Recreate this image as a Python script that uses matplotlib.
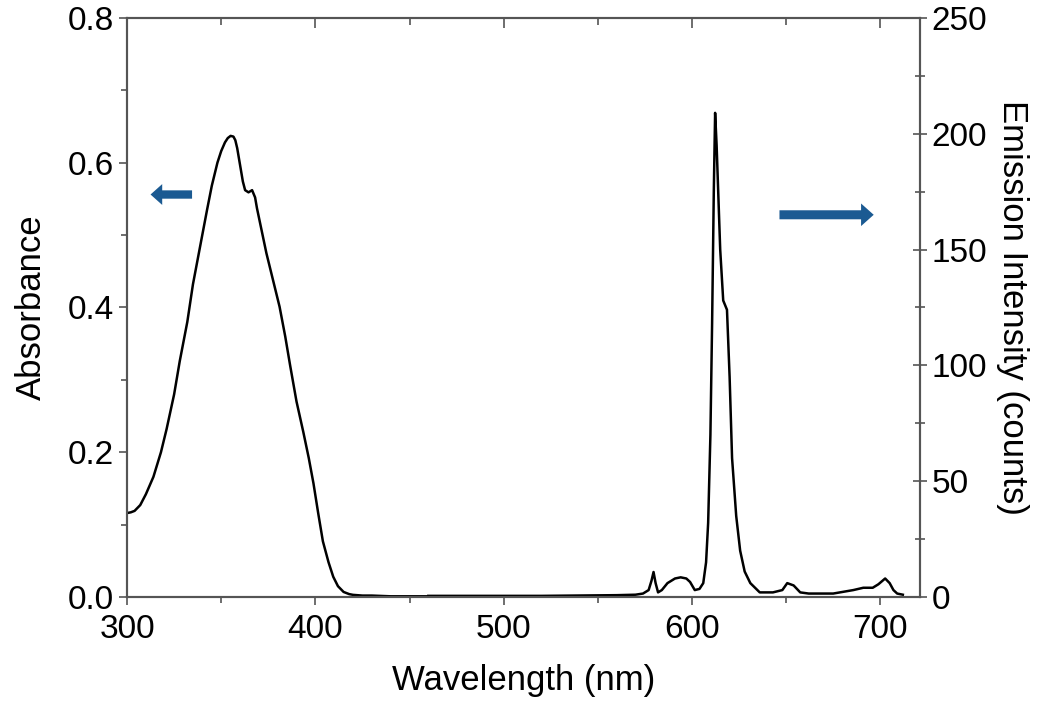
import matplotlib.pyplot as plt
from matplotlib.ticker import MultipleLocator

plt.rcParams['font.family'] = ['Liberation Sans', 'DejaVu Sans']

# absorbance spectrum (left axis)
abs_wl = [300, 302, 304, 307, 310, 314, 318, 321, 325, 328, 332, 335, 339, 342.5, 345, 348,
          350, 352, 353.5, 355, 356.5, 357.5, 358.5, 360, 361.5, 362.7, 364.5, 366.4, 368, 369,
          371.5, 374, 377.5, 381, 384, 386.6, 390, 393.6, 396.5, 399, 401.5, 404, 407, 409.5,
          412, 415, 418, 420, 425, 430, 440, 450, 460]
absorb = [0.116, 0.117, 0.119, 0.127, 0.142, 0.166, 0.2, 0.232, 0.28, 0.326, 0.38, 0.432,
          0.487, 0.535, 0.568, 0.6, 0.616, 0.628, 0.634, 0.637, 0.636, 0.631, 0.62, 0.597,
          0.574, 0.562, 0.559, 0.562, 0.552, 0.537, 0.506, 0.475, 0.438, 0.401, 0.36, 0.32,
          0.27, 0.228, 0.192, 0.157, 0.116, 0.077, 0.048, 0.028, 0.015, 0.007, 0.004, 0.003,
          0.002, 0.002, 0.001, 0.001, 0.001]

# emission spectrum (right axis)
em_wl = [460, 520, 560, 570, 574, 577, 578.5, 579.6, 580.7, 582, 584, 587, 591, 594, 597, 599,
         601.5, 604, 606, 607.5, 608.6, 609.8, 610.7, 611.6, 612.3, 613.1, 613.9, 615,
         616.6, 618.6, 620, 621.3, 623.5, 625.6, 628, 631, 636, 643, 648, 650.6, 654,
         657.5, 662, 675, 685.7, 691, 696, 699, 702.6, 705, 707, 709, 712]
emission = [0.5, 0.5, 0.8, 1, 1.5, 3, 7, 10.8, 6, 2, 3, 6, 8, 8.5, 8, 6.5, 3, 3.5, 6,
            15, 32, 70, 118, 175, 209, 195, 176, 150, 128, 124, 95, 60, 35, 20, 11, 6, 2,
            2, 3, 6, 5, 2, 1.5, 1.5, 3, 4, 4, 5.5, 8, 6, 3, 1.5, 1]

arrow_color = '#1b5a92'
spine_color = '#555555'

fig = plt.figure(figsize=(10.5, 7.15), dpi=100)
ax = fig.add_axes([0.121, 0.165, 0.755, 0.81])
ax2 = ax.twinx()

ax.plot(abs_wl, absorb, color='black', lw=1.8)
ax2.plot(em_wl, emission, color='black', lw=1.8)

ax.set_xlim(300, 721)
ax.set_ylim(0, 0.8)
ax2.set_ylim(0, 250)

ax.xaxis.set_major_locator(MultipleLocator(100))
ax.xaxis.set_minor_locator(MultipleLocator(50))
ax.yaxis.set_major_locator(MultipleLocator(0.2))
ax.yaxis.set_minor_locator(MultipleLocator(0.1))
ax2.yaxis.set_major_locator(MultipleLocator(50))
ax2.yaxis.set_minor_locator(MultipleLocator(25))
ax.yaxis.set_major_formatter(plt.FormatStrFormatter('%.1f'))

for a in (ax, ax2):
    for s in a.spines.values():
        s.set_color(spine_color)
        s.set_linewidth(1.5)

ax.tick_params(axis='both', which='both', direction='out', labelsize=24, color=spine_color, width=1.2)
ax.tick_params(which='major', length=6)
ax.tick_params(which='minor', length=4)
ax.tick_params(axis='x', which='both', pad=6)
ax2.tick_params(axis='y', which='both', direction='inout', labelsize=24, color=spine_color, width=1.2)
ax2.tick_params(which='major', length=10)
ax2.tick_params(which='minor', length=7)

# mirrored ticks on the top edge, pointing inward
top = ax.secondary_xaxis('top')
top.xaxis.set_major_locator(MultipleLocator(100))
top.xaxis.set_minor_locator(MultipleLocator(50))
top.tick_params(which='both', direction='in', labeltop=False, color=spine_color, width=1.2)
top.tick_params(which='major', length=7)
top.tick_params(which='minor', length=5)
top.spines['top'].set_visible(False)

ax.set_xlabel('Wavelength (nm)', fontsize=25, labelpad=14)
ax.set_ylabel('Absorbance', fontsize=25, labelpad=14)
ax2.set_ylabel('Emission Intensity (counts)', fontsize=25, rotation=270, labelpad=30)

# direction arrows
arrow_style = 'simple,head_length=0.7,head_width=1.25,tail_width=0.5'
ax.annotate('', xy=(311, 0.556), xytext=(336, 0.556),
            arrowprops=dict(arrowstyle=arrow_style, color=arrow_color, lw=0, mutation_scale=12))
ax.annotate('', xy=(698, 0.528), xytext=(645, 0.528),
            arrowprops=dict(arrowstyle=arrow_style, color=arrow_color, lw=0, mutation_scale=13))

fig.savefig('out.png', dpi=100)
